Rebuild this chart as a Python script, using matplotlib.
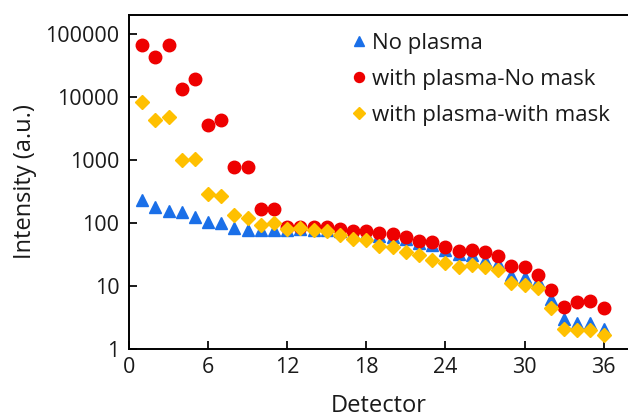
import matplotlib
matplotlib.use("Agg")
import matplotlib.pyplot as plt

plt.rcParams['font.family'] = ['Open Sans', 'DejaVu Sans']

detector = list(range(1, 37))

no_plasma = [231, 180, 154, 147, 123, 104, 99, 82, 77, 78, 78, 78,
             80, 78, 78, 74, 70, 67, 62, 60, 55, 48, 45, 37,
             32, 31, 26, 23, 15, 14, 12, 6.2, 3.0, 2.6, 2.6, 2.1]

plasma_no_mask = [65000, 42000, 66000, 13300, 19400, 3500, 4250, 775, 775, 164, 164, 85,
                  87, 85, 86, 79, 75, 73, 68, 67, 59, 52, 49, 42,
                  36, 37, 35, 30, 21, 19.8, 15, 8.5, 4.6, 5.5, 5.8, 4.5]

plasma_with_mask = [8100, 4300, 4700, 990, 1020, 287, 270, 133, 118, 93, 99, 80,
                    82, 77, 73, 64, 56, 54, 43, 41, 34, 31, 26, 23,
                    20, 21.5, 20, 18, 11, 10.4, 9.2, 4.5, 2.07, 2.0, 2.0, 1.68]

labels = ["No plasma", "with plasma-No mask", "with plasma-with mask"]
xticks = [0, 6, 12, 18, 24, 30, 36]
yticks = [1, 10, 100, 1000, 10000, 100000]

fig = plt.figure(figsize=(6.28, 4.17), dpi=100)
ax = fig.add_axes([0.2054, 0.163, 0.7946, 0.802])

ax.plot(detector, no_plasma, '^', color='#1a6fe8', markersize=8.5, label=labels[0], zorder=3)
ax.plot(detector, plasma_no_mask, 'o', color='#ee0000', markersize=9, label=labels[1], zorder=4)
ax.plot(detector, plasma_with_mask, 'D', color='#ffc000', markersize=7.5, label=labels[2], zorder=5)

ax.set_yscale('log')
ax.set_xlim(0, 37.85)
ax.set_ylim(1, 2e5)
ax.set_xticks(xticks)
ax.set_xticklabels([str(t) for t in xticks])
ax.set_yticks(yticks)
ax.set_yticklabels([str(t) for t in yticks])
ax.minorticks_off()

ax.spines['right'].set_visible(False)
for s in ['left', 'bottom', 'top']:
    ax.spines[s].set_linewidth(1.4)
ax.tick_params(direction='in', length=5.5, width=1.4, labelsize=15.5, colors='#1a1a1a')
ax.tick_params(axis='y', pad=7)
ax.tick_params(axis='x', pad=6)

ax.set_xlabel("Detector", fontsize=17, color='#1a1a1a', labelpad=11)
ax.set_ylabel("Intensity (a.u.)", fontsize=17, color='#1a1a1a', labelpad=6)

ax.legend(loc='upper left', bbox_to_anchor=(0.447, 0.945), borderaxespad=0, borderpad=0,
          frameon=False, fontsize=16, markerscale=0.8, handlelength=0.6,
          handletextpad=0.3, labelspacing=0.67, labelcolor='#1a1a1a')

fig.savefig("out.png", dpi=100)
